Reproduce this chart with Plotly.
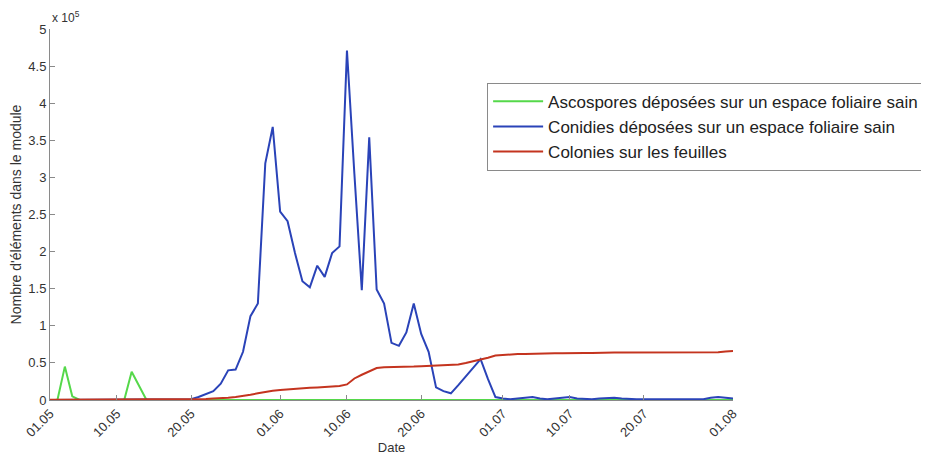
import pandas as pd
import plotly.graph_objects as go

# daily values from 01.05 to 01.08 (x 10^5)
dates = pd.date_range("2000-05-01", "2000-08-01", freq="D")

ascospores = [0, 0, 0.45, 0.05, 0, 0, 0, 0, 0, 0,
              0, 0.38, 0.19, 0, 0, 0, 0, 0, 0, 0,
              0, 0, 0, 0, 0, 0, 0, 0, 0, 0,
              0, 0, 0, 0, 0, 0, 0, 0, 0, 0,
              0, 0, 0, 0, 0, 0, 0, 0, 0, 0,
              0, 0, 0, 0, 0, 0, 0, 0, 0, 0,
              0, 0, 0, 0, 0, 0, 0, 0, 0, 0,
              0, 0, 0, 0, 0, 0, 0, 0, 0, 0,
              0, 0, 0, 0, 0, 0, 0, 0, 0, 0,
              0, 0, 0]

conidies = [0, 0, 0, 0, 0, 0, 0, 0, 0, 0,
            0, 0, 0, 0, 0, 0, 0, 0, 0, 0.01,
            0.04, 0.08, 0.12, 0.22, 0.40, 0.41, 0.65, 1.13, 1.30, 3.19,
            3.68, 2.54, 2.41, 1.98, 1.60, 1.52, 1.81, 1.66, 1.98, 2.07,
            4.71, 3.05, 1.48, 3.54, 1.49, 1.30, 0.77, 0.73, 0.91, 1.30,
            0.89, 0.65, 0.17, 0.12, 0.09, 0.20, 0.32, 0.43, 0.55, 0.28,
            0.04, 0.02, 0.01, 0.02, 0.03, 0.04, 0.02, 0.01, 0.02, 0.03,
            0.04, 0.02, 0.01, 0.01, 0.02, 0.03, 0.03, 0.02, 0.01, 0.01,
            0.01, 0.01, 0.01, 0.02, 0.01, 0.01, 0.01, 0.01, 0.01, 0.03,
            0.04, 0.03, 0.02]

colonies = [0.005, 0.005, 0.005, 0.005, 0.005, 0.005, 0.005, 0.005, 0.005, 0.005,
            0.005, 0.005, 0.005, 0.005, 0.005, 0.005, 0.005, 0.005, 0.005, 0.01,
            0.01, 0.015, 0.02, 0.02, 0.03, 0.04, 0.05, 0.07, 0.09, 0.11,
            0.125, 0.135, 0.145, 0.155, 0.16, 0.165, 0.17, 0.175, 0.18, 0.19,
            0.21, 0.29, 0.34, 0.38, 0.43, 0.44, 0.44, 0.445, 0.45, 0.45,
            0.455, 0.46, 0.46, 0.47, 0.475, 0.48, 0.50, 0.52, 0.54, 0.57,
            0.60, 0.61, 0.615, 0.62, 0.62, 0.625, 0.625, 0.63, 0.63, 0.63,
            0.635, 0.635, 0.635, 0.635, 0.64, 0.64, 0.64, 0.64, 0.64, 0.64,
            0.64, 0.64, 0.64, 0.64, 0.64, 0.64, 0.64, 0.64, 0.64, 0.645,
            0.645, 0.655, 0.66]

tick_dates = ["2000-05-01", "2000-05-10", "2000-05-20", "2000-06-01", "2000-06-10",
              "2000-06-20", "2000-07-01", "2000-07-10", "2000-07-20", "2000-08-01"]
tick_labels = ["01.05", "10.05", "20.05", "01.06", "10.06",
               "20.06", "01.07", "10.07", "20.07", "01.08"]
y_ticks = [0, 0.5, 1, 1.5, 2, 2.5, 3, 3.5, 4, 4.5, 5]
y_labels = ["0", "0.5", "1", "1.5", "2", "2.5", "3", "3.5", "4", "4.5", "5"]

series = [
    ("Ascospores déposées sur un espace foliaire sain", ascospores, "#55d84a"),
    ("Conidies déposées sur un espace foliaire sain", conidies, "#2a43b8"),
    ("Colonies sur les feuilles", colonies, "#c4341f"),
]

fig = go.Figure()
for name, vals, color in series:
    fig.add_trace(go.Scatter(x=dates, y=vals, mode="lines", name=name,
                             legendgroup=name,
                             line=dict(color=color, width=2)))

axis_style = dict(showline=True, linecolor="#8a8a8a", linewidth=1,
                  ticks="inside", ticklen=5, tickcolor="#8a8a8a",
                  showgrid=False, zeroline=False, automargin=False,
                  tickfont=dict(size=13, color="#333333"))

fig.update_xaxes(range=["2000-05-01", "2000-08-01"], tickvals=tick_dates,
                 ticktext=tick_labels, tickangle=-45,
                 title=dict(text="Date", font=dict(size=13, color="#333333"), standoff=0),
                 **axis_style)
fig.update_yaxes(range=[0, 5], tickvals=y_ticks, ticktext=y_labels,
                 title=dict(text="Nombre d'éléments dans le module",
                            font=dict(size=14, color="#333333"), standoff=4),
                 **axis_style)

fig.add_annotation(text="x 10<sup>5</sup>", xref="paper", yref="paper",
                   x=0, y=1, xanchor="left", yanchor="bottom", showarrow=False,
                   yshift=2, font=dict(size=12, color="#333333"))

# page body adds an 8px offset, margins compensate for it
fig.update_layout(
    width=929, height=452,
    margin=dict(l=42, r=204, t=21, b=60),
    paper_bgcolor="white", plot_bgcolor="white",
    font=dict(family="Liberation Sans, Arial, sans-serif"),
    showlegend=True,
    legend=dict(x=0.64, y=0.855, xanchor="left", yanchor="top",
                bgcolor="white", bordercolor="#8a8a8a", borderwidth=1,
                font=dict(size=17, color="#222222"),
                tracegroupgap=0, itemwidth=50),
)

fig.write_html("out.html")
